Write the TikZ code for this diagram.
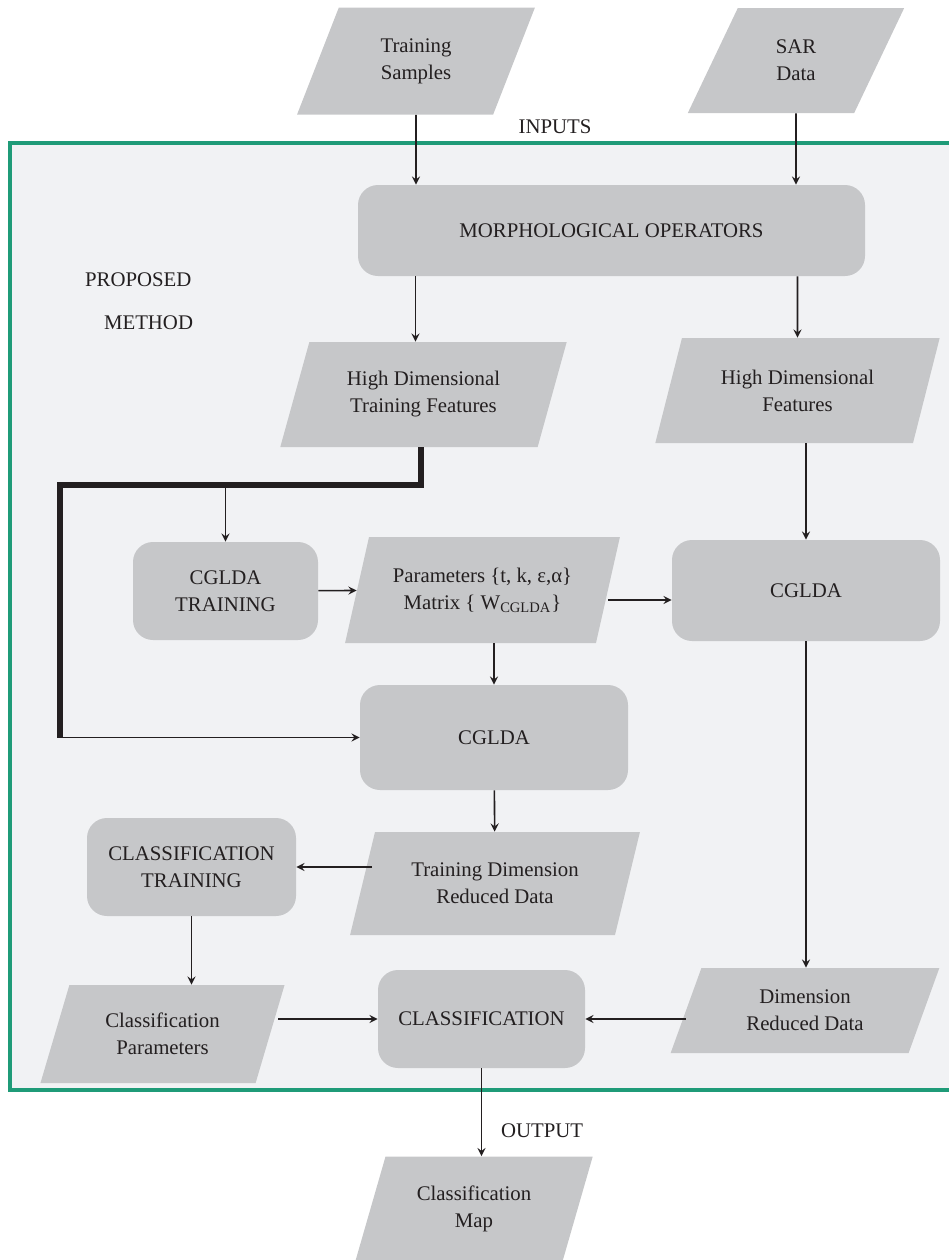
\documentclass[tikz,border=0pt]{standalone}
\usepackage{fontspec}
\setmainfont{Liberation Serif}
\usetikzlibrary{shapes.geometric}
\definecolor{boxgray}{HTML}{C6C7C9}
\definecolor{framegreen}{HTML}{1F9B78}
\definecolor{panel}{HTML}{F1F2F4}
\definecolor{ink}{HTML}{231F20}
\newcommand{\slant}{67}

\begin{document}
\begin{tikzpicture}[x=0.5pt,y=-0.5pt,>=stealth,
  every node/.style={font=\fontsize{10.4}{13.5}\selectfont,text=ink},
  proc/.style={fill=boxgray,rounded corners=10pt,align=center,inner sep=0pt},
  data/.style={trapezium,trapezium left angle=\slant,trapezium right angle=113,
    trapezium stretches,fill=boxgray,align=center,inner sep=0pt},
  link/.style={->,line width=0.8pt,draw=ink},
  trunk/.style={line width=3pt,draw=ink}]
  \path[use as bounding box,clip] (0,0) rectangle (949,1260);

  \draw[framegreen,line width=2pt,fill=panel] (10,143) rectangle (965,1090);

  \node[data,minimum width=119pt,minimum height=53.5pt] (samples) at (416,61)   {Training\\Samples};
  \node[data,minimum width=108.5pt,minimum height=52.5pt] (sar)   at (796,60.5) {SAR\\Data};
  \node (inputs) at (555,127) {INPUTS};

  \node[proc,minimum width=253.5pt,minimum height=45.5pt] (morph) at (611.5,230.5) {MORPHOLOGICAL OPERATORS};
  \node[anchor=west] (proposed) at (78,280) {PROPOSED};
  \node[anchor=west] (method)   at (97,323) {METHOD};

  \node[data,minimum width=143.5pt,minimum height=52.5pt] (hdtrain) at (423.5,394.5) {High Dimensional\\Training Features};
  \node[data,minimum width=142.5pt,minimum height=52.5pt] (hdfeat)  at (797.5,390.5) {High Dimensional\\Features};

  \node[proc,minimum width=92.5pt,minimum height=49pt]  (cgtrain) at (225.5,591) {CGLDA\\TRAINING};
  \node[data,minimum width=137.5pt,minimum height=53pt] (params)  at (482.5,590) {Parameters \{t, k, ε,α\}\\Matrix \{ W\textsubscript{CGLDA}\}};
  \node[proc,minimum width=134pt,minimum height=50.5pt] (cgright) at (806,590.5) {CGLDA};
  \node[proc,minimum width=134pt,minimum height=52.5pt] (cgmid)   at (494,737.5) {CGLDA};

  \node[proc,minimum width=104.5pt,minimum height=49pt] (clstrain)  at (191.5,867)  {CLASSIFICATION\\TRAINING};
  \node[data,minimum width=145pt,minimum height=51.5pt] (trreduced) at (495,883.5)  {Training Dimension\\Reduced Data};
  \node[data,minimum width=122.5pt,minimum height=49pt] (clsparams) at (162.5,1034) {Classification\\Parameters};
  \node[proc,minimum width=103.5pt,minimum height=49pt] (classify)  at (481.5,1019) {CLASSIFICATION};
  \node[data,minimum width=135pt,minimum height=42.5pt] (reduced)   at (805,1010.5) {Dimension\\Reduced Data};
  \node[data,minimum width=119pt,minimum height=52.5pt] (clsmap)    at (474,1209)   {Classification\\Map};
  \node[anchor=west] (output) at (494,1131) {OUTPUT};

  \coordinate (fork) at (60,485);

  \draw[link] (samples) -- (samples |- morph.north);
  \draw[link] (sar) -- (sar |- morph.north);
  \draw[link] ([xshift=-4pt]hdtrain.north |- morph.south) -- ([xshift=-4pt]hdtrain.north);
  \draw[link] (hdfeat |- morph.south) -- (hdfeat);
  \draw[trunk] ([xshift=-1.5pt]hdtrain.south) |- (fork) -- (fork |- cgmid.west);
  \draw[link] (fork |- cgmid.west) -- (cgmid.west);
  \draw[link] (cgtrain.north |- fork) -- (cgtrain.north);
  \draw[link] (cgtrain) -- (params);
  \draw[link] ([yshift=-5pt]params.right side) -- ([yshift=-5pt]params.right side -| cgright.west);
  \draw[link] (cgright.north |- hdfeat.south) -- (cgright.north);
  \draw[link] (cgmid.north |- params.south) -- (cgmid.north);
  \draw[link] (cgmid) -- (trreduced);
  \draw[link] ([xshift=5pt]trreduced.left side |- clstrain.east) -- (clstrain.east);
  \draw[link] (clstrain.south) -- (clstrain.south |- clsparams.north);
  \draw[link] ([xshift=4pt]clsparams.right side |- classify.west) -- (classify.west);
  \draw[link] (cgright.south) -- (cgright.south |- reduced.north);
  \draw[link] (reduced.left side |- classify.east) -- (classify.east);
  \draw[link] (classify.south) -- (classify.south |- clsmap.north);
\end{tikzpicture}
\end{document}
